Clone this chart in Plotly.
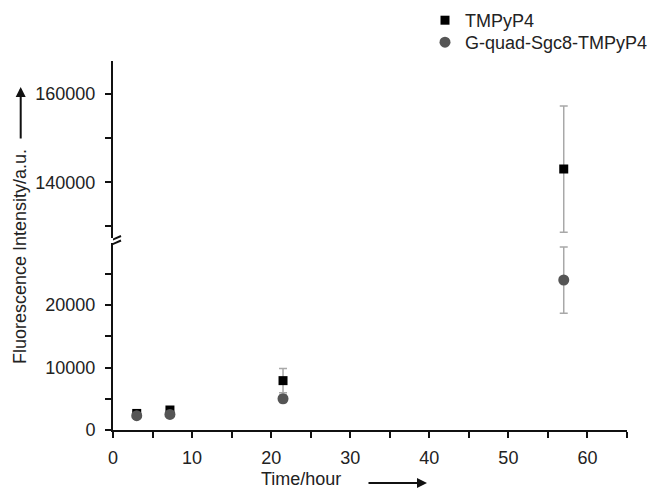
import plotly.graph_objects as go

# ---- data ----
time_h = [3, 7.2, 21.5, 57]
tmpyp4 = [2650, 3200, 7900, 143000]
tmpyp4_err = [300, 300, 1950, 14300]
gquad = [2300, 2500, 5000, 24000]
gquad_err = [200, 200, 600, 5300]

x_ticks = [0, 10, 20, 30, 40, 50, 60]
low_ticks = [0, 10000, 20000]
up_ticks = [140000, 160000]
low_range = [0, 30000]
up_range = [127500, 167500]

W, H = 662, 490
ML, MR, MT, MB = 113, 35, 61, 60
PW, PH = W - ML - MR, H - MT - MB


def px(xp):
    return (xp - ML) / PW


def py(yp):
    return (H - MB - yp) / PH


low_dom = [0, py(242.5)]
up_dom = [py(237.5), 1]


def split(vals, errs, lo, hi):
    v = [a if lo <= a <= hi else None for a in vals]
    e = [b if lo <= a <= hi else None for a, b in zip(vals, errs)]
    return v, e


fig = go.Figure()
series = [
    ("TMPyP4", tmpyp4, tmpyp4_err, "square", "#000000", 9, "legend"),
    ("G-quad-Sgc8-TMPyP4", gquad, gquad_err, "circle", "#555555", 11, "legend2"),
]
for name, vals, errs, sym, col, size, leg in series:
    for yax, rng, show in (("y", low_range, True), ("y2", up_range, False)):
        v, e = split(vals, errs, rng[0], rng[1])
        fig.add_trace(go.Scatter(
            x=time_h, y=v, mode="markers", name=name, yaxis=yax,
            showlegend=show, legend=leg,
            marker=dict(symbol=sym, color=col, size=size, line=dict(width=0)),
            error_y=dict(type="data", array=e, visible=True,
                         color="#a8a8a8", thickness=1.5, width=4),
        ))

font = dict(family="Liberation Sans, Arial, sans-serif", size=18, color="#222222")
axis_common = dict(showline=True, linecolor="#111111", linewidth=2,
                   ticks="outside", ticklen=6, tickwidth=2, tickcolor="#111111",
                   showgrid=False, zeroline=False, tickfont=font, automargin=False)
leg_common = dict(xanchor="left", yanchor="top", bgcolor="rgba(0,0,0,0)",
                  font=font, itemwidth=30)

fig.update_layout(
    width=W, height=H,
    margin=dict(l=ML, r=MR, t=MT, b=MB, autoexpand=False),
    paper_bgcolor="white", plot_bgcolor="white",
    font=font,
    showlegend=True,
    legend=dict(x=px(425), y=py(2), **leg_common),
    legend2=dict(x=px(425), y=py(24), **leg_common),
    xaxis=dict(range=[0, 65], tickvals=x_ticks, anchor="y",
               minor=dict(dtick=5, ticks="outside", ticklen=6, tickwidth=2,
                          tickcolor="#111111"),
               ticklabelstandoff=4, **axis_common),
    yaxis=dict(range=low_range, domain=low_dom, tickvals=low_ticks, anchor="x",
               minor=dict(tickvals=[5000, 15000, 25000], ticks="outside",
                          ticklen=6, tickwidth=2, tickcolor="#111111"),
               tickformat="d", ticklabelstandoff=6, **axis_common),
    yaxis2=dict(range=up_range, domain=up_dom, tickvals=up_ticks, anchor="x",
                minor=dict(tickvals=[130000, 150000], ticks="outside",
                           ticklen=6, tickwidth=2, tickcolor="#111111"),
                tickformat="d", ticklabelstandoff=6, **axis_common),
)

# axis-break marks
gap_mid = (low_dom[1] + up_dom[0]) / 2
for dy in (-4, 0.5):
    fig.add_shape(type="line", xref="x", yref="paper",
                  xsizemode="pixel", ysizemode="pixel",
                  xanchor=0, yanchor=gap_mid,
                  x0=-8, x1=8, y0=dy - 3.5, y1=dy + 3.5,
                  line=dict(color="#111111", width=2))

# axis titles with arrows
fig.add_annotation(text="Time/hour", xref="paper", yref="paper",
                   x=px(301), y=py(479), xanchor="center", yanchor="middle",
                   showarrow=False, font=font)
fig.add_annotation(text="", xref="paper", yref="paper",
                   x=px(427), y=py(483), ax=-60, ay=0, showarrow=True,
                   arrowhead=2, arrowsize=1, arrowwidth=2, arrowcolor="#111111")
fig.add_annotation(text="Fluorescence Intensity/a.u.", xref="paper", yref="paper",
                   x=px(20), y=py(257), xanchor="center", yanchor="middle",
                   showarrow=False, textangle=-90, font=font)
fig.add_annotation(text="", xref="paper", yref="paper",
                   x=px(20.7), y=py(87), ax=0, ay=53, showarrow=True,
                   arrowhead=2, arrowsize=1, arrowwidth=2, arrowcolor="#111111")

fig.write_html("out.html", config={"displayModeBar": False},
               post_script="document.body.style.margin='0';")
